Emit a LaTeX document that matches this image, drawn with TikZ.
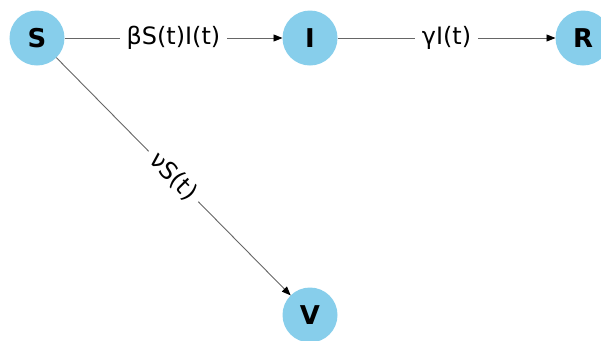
\documentclass[tikz,border=0pt]{standalone}
\usepackage{fontspec}
\setmainfont{DejaVu Sans}
\usetikzlibrary{arrows.meta}
\definecolor{skyblue}{RGB}{135,206,235}
\begin{document}
\begin{tikzpicture}[x=1bp,y=-1bp,
  state/.style={circle,fill=skyblue,draw=none,minimum size=55bp,inner sep=0pt,outer sep=0pt,
    font=\fontsize{26}{28}\selectfont\bfseries},
  flow/.style={draw=black!60,line width=0.9bp,-{Triangle[length=9bp,width=7bp,fill=black,color=black]}},
  lab/.style={fill=white,inner sep=7bp,font=\fontsize{24}{27}\selectfont,text=black}]
\useasboundingbox (0,0) rectangle (601,340);
\node[state] (S) at (37,38) {S};
\node[state] (I) at (310,38) {I};
\node[state] (R) at (583,38) {R};
\node[state] (V) at (310,315) {V};
\draw[flow] (S) -- node[lab] {βS(t)I(t)} (I);
\draw[flow] (I) -- node[lab] {γI(t)} (R);
\draw[flow] (S) -- node[lab,sloped] {νS(t)} (V);
\end{tikzpicture}
\end{document}
